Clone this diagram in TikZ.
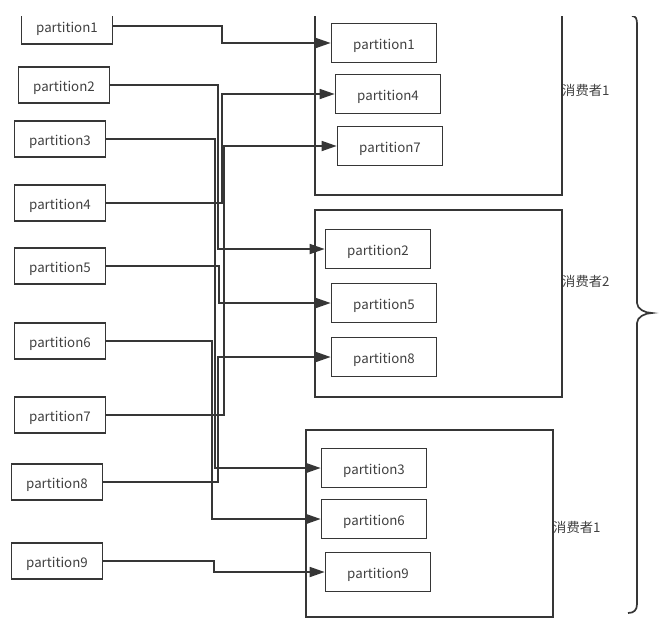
\documentclass[tikz,border=0pt]{standalone}
\usepackage{fontspec}
\setmainfont{Noto Sans CJK SC}
\usetikzlibrary{arrows.meta}
\definecolor{linecol}{HTML}{363636}
\definecolor{textcol}{HTML}{404040}

\begin{document}
\begin{tikzpicture}[
    x=1pt, y=-1pt,
    part/.style={draw=linecol, line width=1.7pt, minimum width=91pt,
                 minimum height=36pt, inner sep=0pt, text=textcol,
                 text height=13pt, text depth=0pt,
                 font=\fontsize{13.3}{15}\selectfont},
    slot/.style={part, minimum width=105pt, minimum height=39pt},
    group/.style={draw=linecol, line width=1.7pt},
    link/.style={-{Triangle[length=15pt, width=10pt]}, line width=1.7pt,
                 draw=linecol},
    cname/.style={anchor=west, inner sep=0pt, text=textcol,
                  font=\fontsize{13.3}{15}\selectfont},
  ]

  \useasboundingbox (0,0) rectangle (663,625);
  \clip (0,16) rectangle (663,625);

  % =========================================================
  %  consumer groups
  % =========================================================
  \draw[group] (315,5) rectangle (562,195);
  \draw[group] (315,210) rectangle (562,397);
  \draw[group] (306,430) rectangle (553,617);
  \node[cname] (n1) at (562,90) {消费者1};
  \node[cname] (n2) at (562,281) {消费者2};
  \node[cname] (n3) at (553,527) {消费者1};

  % =========================================================
  %  source partitions (left column)
  % =========================================================
  \node[part] (p1) at (67,26)  {partition1};
  \node[part] (p2) at (64,85)  {partition2};
  \node[part] (p3) at (60,139) {partition3};
  \node[part] (p4) at (60,203) {partition4};
  \node[part] (p5) at (60,266) {partition5};
  \node[part] (p6) at (60,341) {partition6};
  \node[part] (p7) at (60,415) {partition7};
  \node[part] (p8) at (57,482) {partition8};
  \node[part] (p9) at (57,561) {partition9};

  % =========================================================
  %  assigned partitions (inside the groups)
  % =========================================================
  \node[slot] (c1) at (384,43)  {partition1};
  \node[slot] (c4) at (388,94)  {partition4};
  \node[slot] (c7) at (390,146) {partition7};
  \node[slot] (c2) at (378,249) {partition2};
  \node[slot] (c5) at (384,303) {partition5};
  \node[slot] (c8) at (384,357) {partition8};
  \node[slot] (c3) at (374,468) {partition3};
  \node[slot] (c6) at (374,519) {partition6};
  \node[slot] (c9) at (378,572) {partition9};

  % connectors: source -> bend at x -> target
  \foreach \src/\dst/\vx in {p1/c1/222, p2/c2/218, p3/c3/215,
                             p4/c4/222, p5/c5/219, p6/c6/212,
                             p7/c7/224, p8/c8/218, p9/c9/214}{
    \draw[link] (\src.east) -| (\vx,0 |- \dst.west) -- (\dst.west);
  }

  % brace round all groups
  \draw[line width=1.7pt, linecol]
    (632,16) .. controls (636,16) and (637,19) .. (637,24)
    -- (637,303) .. controls (637,309) and (645,313) .. (652,313)
    .. controls (645,313) and (637,317) .. (637,323)
    -- (637,604) .. controls (637,610) and (634,613) .. (628,613);

\end{tikzpicture}
\end{document}
